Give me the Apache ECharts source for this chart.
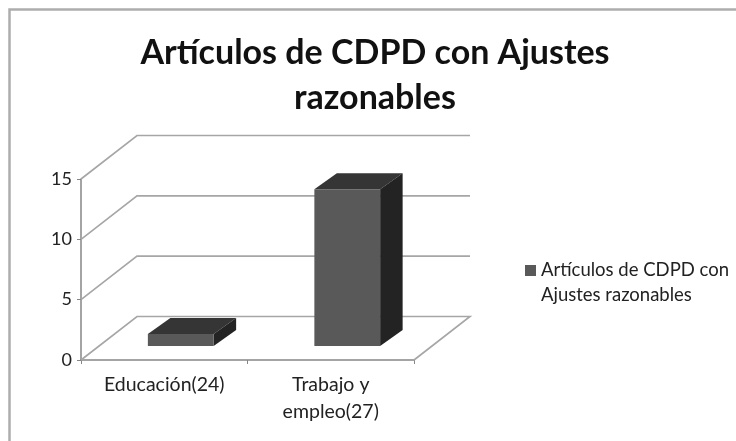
<!DOCTYPE html>
<html><head><meta charset="utf-8">
<style>html,body{margin:0;padding:0;background:#fff}#c{width:736px;height:441px}</style>
<script src="https://cdn.jsdelivr.net/npm/echarts@6/dist/echarts.min.js"></script>
</head><body><div id="c"></div>
<script>
const titleText = 'Artículos de CDPD con Ajustes\nrazonables';
const categories = ['Educación(24)', 'Trabajo y\nempleo(27)'];
const seriesName = 'Artículos de CDPD con\nAjustes razonables';
const values = [1, 13];
const yTicks = [0, 5, 10, 15];

const depthX = 56, depthY = 43.5;
const barOffX = 16.5, barOffY = 14, barDepX = 22.5, barDepY = 16, barFrac = 0.395;
const fontName = 'Lato';

const chart = echarts.init(document.getElementById('c'));

function wall(params, api) {
  const v = api.value(0);
  const band = api.size([1, 0])[0];
  const p0 = api.coord([0, v]);
  const x0 = p0[0] - band / 2, y = p0[1];
  const x1 = x0 + 2 * band;
  const pts = [[x0, y], [x0 + depthX, y - depthY], [x1 + depthX, y - depthY]];
  if (v === 0) pts.push([x1, y]);
  return { type: 'polyline', silent: true, shape: { points: pts },
    style: { stroke: '#a6a6a6', lineWidth: 1.6, fill: null } };
}
function bar(params, api) {
  const i = api.value(0), v = api.value(1);
  const band = api.size([1, 0])[0], w = band * barFrac;
  const base = api.coord([i, 0]), top = api.coord([i, v]);
  const xl = base[0] + barOffX - w / 2, xr = xl + w;
  const yb = base[1] - barOffY, yt = top[1] - barOffY;
  const poly = (points, fill) => ({ type: 'polygon', shape: { points }, style: { fill, stroke: null } });
  return { type: 'group', children: [
    poly([[xl, yt], [xr, yt], [xr + barDepX, yt - barDepY], [xl + barDepX, yt - barDepY]], '#353535'),
    poly([[xr, yb], [xr, yt], [xr + barDepX, yt - barDepY], [xr + barDepX, yb - barDepY]], '#232323'),
    poly([[xl, yb], [xr, yb], [xr, yt], [xl, yt]], '#595959')
  ] };
}

chart.setOption({
  animation: false,
  backgroundColor: '#fff',
  title: { text: titleText, left: 370, top: 26, textAlign: 'center',
    textStyle: { fontFamily: fontName, fontWeight: 'bold', fontSize: 34, lineHeight: 45, color: '#111' } },
  legend: { data: [seriesName], left: 520, top: 228, orient: 'vertical', icon: 'rect', itemWidth: 11, itemHeight: 11, itemGap: 7,
    formatter: n => ' \n' + n,
    textStyle: { fontFamily: fontName, fontSize: 18.5, lineHeight: 25, color: '#222' } },
  grid: { left: 81, right: 322, top: 179, bottom: 81 },
  xAxis: { type: 'category', data: categories,
    axisLine: { lineStyle: { color: '#868686', width: 1.5 } },
    axisTick: { show: true, length: 4, alignWithLabel: false, lineStyle: { color: '#868686' } },
    axisLabel: { fontFamily: fontName, fontSize: 19.5, lineHeight: 27, color: '#222', margin: 11 },
    splitLine: { show: false } },
  yAxis: { type: 'value', min: 0, max: 15, interval: 5,
    axisLine: { show: true, lineStyle: { color: '#868686', width: 1.5 } },
    axisTick: { show: true, length: 4, lineStyle: { color: '#868686' } },
    axisLabel: { fontFamily: fontName, fontSize: 18, color: '#222', margin: 9 },
    splitLine: { show: false } },
  graphic: [{ type: 'polyline', z: -1, silent: true, shape: { points: [[9.5, 441], [9.5, 9.5], [736, 9.5]] },
    style: { fill: null, stroke: '#adadad', lineWidth: 2.5 } }],
  series: [
    { type: 'custom', name: 'wall', data: yTicks.map(v => [v]), encode: { y: 0 }, renderItem: wall, silent: true, z: 1 },
    { type: 'custom', name: seriesName, data: values.map((v, i) => [i, v]), encode: { x: 0, y: 1 }, renderItem: bar, z: 2,
      itemStyle: { color: '#595959' } }
  ]
});
</script></body></html>
